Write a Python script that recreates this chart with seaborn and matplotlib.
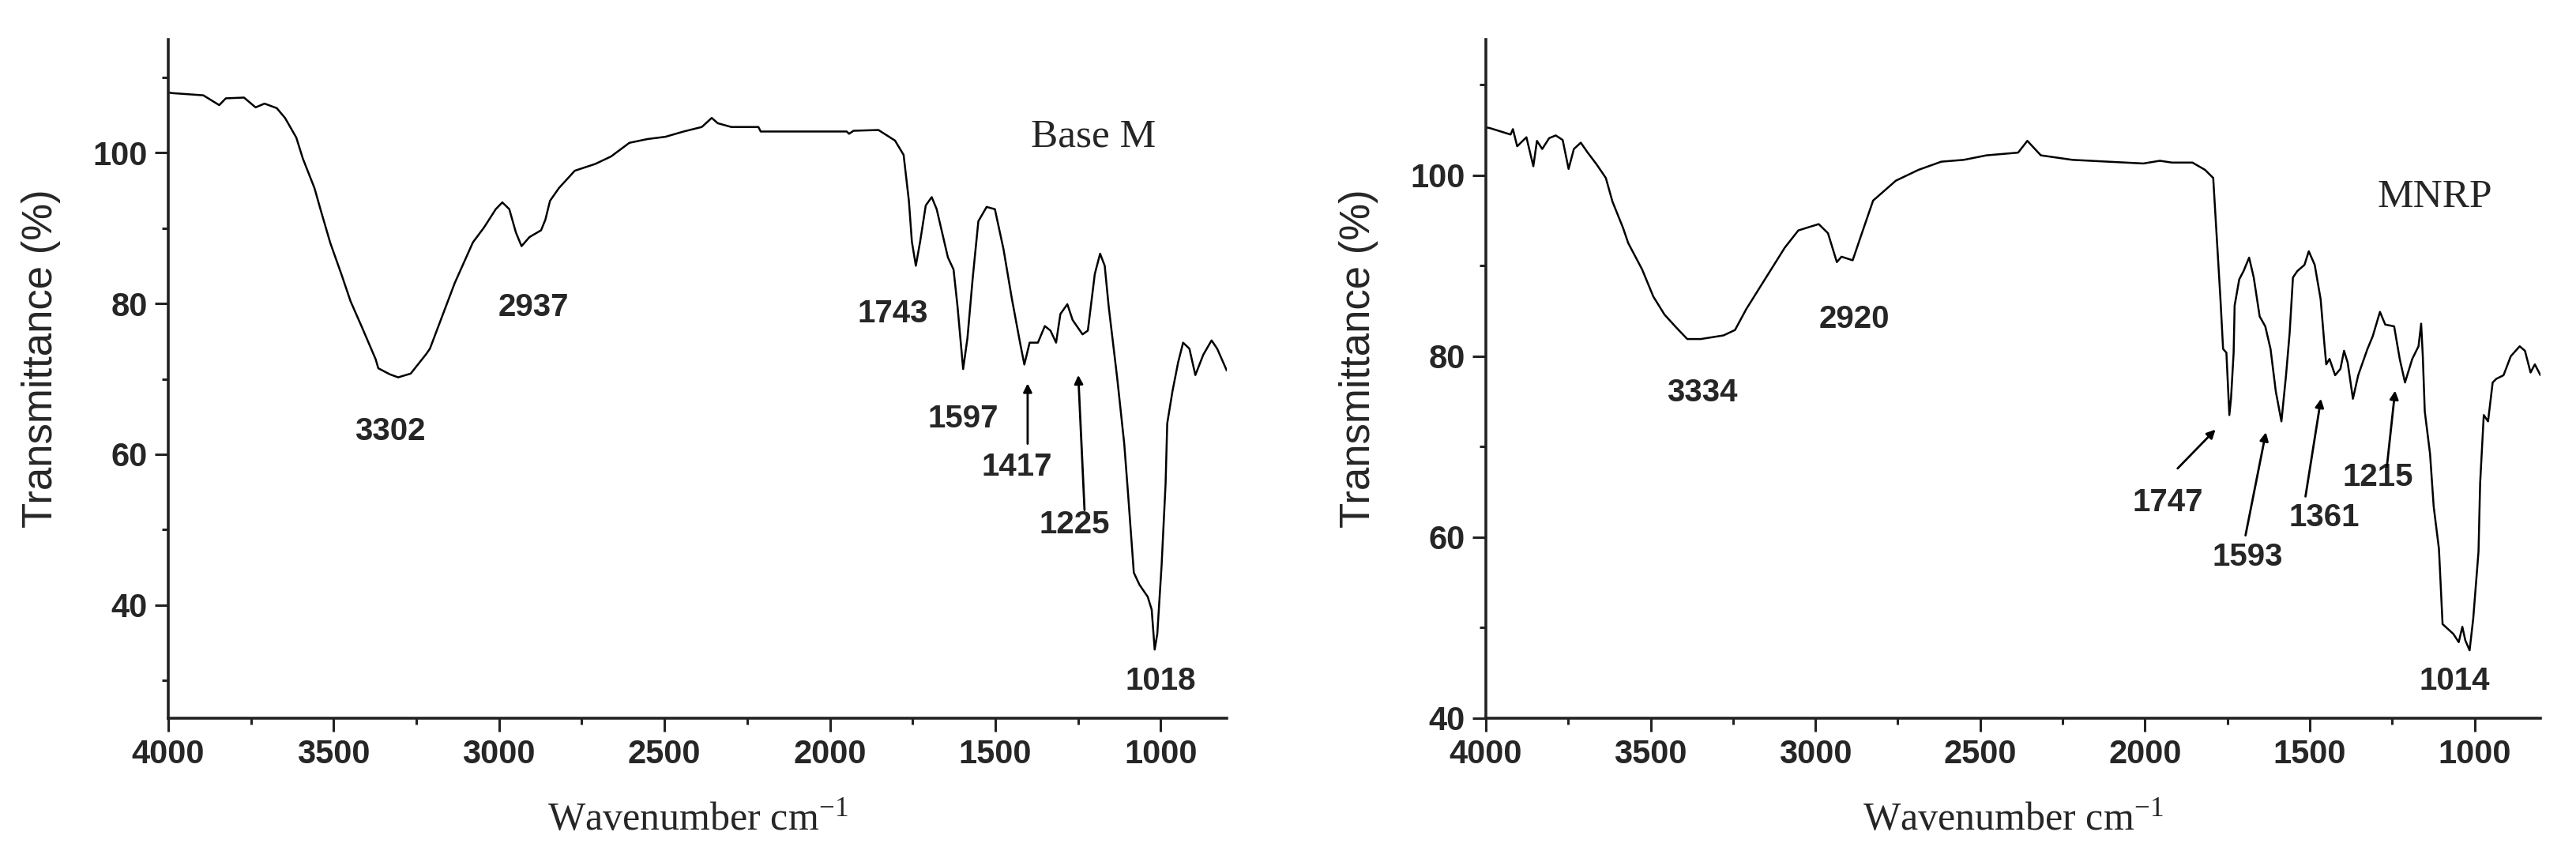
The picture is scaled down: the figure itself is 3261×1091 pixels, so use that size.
import numpy as np
import pandas as pd
import seaborn as sns
import matplotlib.pyplot as plt
from matplotlib.ticker import MultipleLocator

# Base M spectrum (wavenumber in cm-1, transmittance in %)
base_wn = [4000, 3990, 3894, 3846, 3826, 3771, 3736, 3709, 3672, 3647, 3613, 3593,
           3558, 3538, 3510, 3476, 3449, 3414, 3373, 3365, 3330, 3305, 3267, 3220,
           3209, 3134, 3079, 3045, 3010, 2990, 2969, 2949, 2932, 2908, 2873, 2860,
           2846, 2819, 2771, 2709, 2661, 2606, 2551, 2497, 2442, 2387, 2357, 2339,
           2298, 2216, 2209, 1949, 1942, 1928, 1853, 1803, 1777, 1761, 1752, 1740,
           1727, 1710, 1692, 1677, 1643, 1626, 1614, 1597, 1584, 1568, 1551, 1526,
           1501, 1475, 1450, 1425, 1412, 1396, 1371, 1350, 1333, 1316, 1303, 1282,
           1266, 1236, 1220, 1199, 1183, 1169, 1157, 1131, 1110, 1098, 1081, 1064,
           1039, 1027, 1018, 1010, 997, 985, 980, 964, 947, 932, 913, 895, 871, 846,
           829, 800]
base_t = [108.0, 107.9, 107.6, 106.3, 107.2, 107.3, 106.0, 106.5, 105.9, 104.6, 102.0, 99.2,
          95.3, 92.2, 88.0, 83.8, 80.3, 76.8, 72.6, 71.4, 70.6, 70.2, 70.7, 73.3,
          74.0, 82.7, 88.1, 90.1, 92.5, 93.4, 92.5, 89.4, 87.6, 88.8, 89.7, 91.1,
          93.6, 95.3, 97.6, 98.5, 99.5, 101.3, 101.8, 102.1, 102.8, 103.4, 104.6, 103.9,
          103.4, 103.4, 102.8, 102.8, 102.5, 102.9, 103.0, 101.6, 99.7, 93.6, 88.2, 85.0,
          88.2, 93.0, 94.1, 92.5, 86.1, 84.5, 79.6, 71.3, 75.4, 83.4, 90.9, 92.8,
          92.5, 87.2, 80.7, 74.8, 71.9, 74.8, 74.8, 77.0, 76.4, 74.8, 78.6, 79.9,
          77.8, 75.9, 76.4, 83.9, 86.6, 85.0, 79.6, 70.0, 61.4, 54.5, 44.3, 42.7,
          41.1, 39.4, 34.1, 36.2, 45.3, 56.1, 64.1, 68.4, 72.2, 74.8, 74.0, 70.5, 73.2, 75.1,
          74.0, 71.1]

# MNRP spectrum
mnrp_wn = [4000, 3987, 3925, 3918, 3905, 3877, 3856, 3845, 3829, 3808, 3788, 3767,
           3749, 3733, 3712, 3691, 3664, 3636, 3616, 3584, 3568, 3526, 3492, 3458,
           3423, 3389, 3348, 3279, 3244, 3210, 3155, 3093, 3052, 3017, 2990, 2962,
           2935, 2921, 2887, 2859, 2825, 2756, 2687, 2618, 2550, 2481, 2385, 2357,
           2316, 2220, 2005, 1955, 1918, 1856, 1818, 1793, 1782, 1771, 1763, 1753,
           1744, 1739, 1731, 1728, 1714, 1701, 1684, 1670, 1652, 1635, 1619, 1603,
           1586, 1572, 1561, 1551, 1538, 1516, 1503, 1485, 1467, 1456, 1450, 1440,
           1423, 1407, 1396, 1385, 1369, 1353, 1325, 1309, 1287, 1271, 1244, 1227,
           1211, 1189, 1170, 1162, 1157, 1151, 1135, 1124, 1108, 1097, 1064, 1048,
           1037, 1028, 1015, 1004, 988, 983, 972, 959, 945, 934, 912, 890, 863, 847,
           830, 817, 800]
mnrp_t = [105.3, 105.2, 104.5, 105.1, 103.2, 104.2, 101.0, 103.8, 102.9, 104.1, 104.4, 103.9,
          100.7, 102.9, 103.6, 102.5, 101.2, 99.7, 97.1, 94.2, 92.5, 89.6, 86.6, 84.6,
          83.2, 81.9, 81.9, 82.3, 82.9, 85.2, 88.4, 92.0, 93.9, 94.3, 94.6, 93.6,
          90.4, 91.0, 90.6, 93.6, 97.2, 99.4, 100.6, 101.5, 101.7, 102.2, 102.5, 103.8,
          102.2, 101.7, 101.3, 101.6, 101.4, 101.4, 100.6, 99.7, 93.0, 86.3, 80.8, 80.4,
          73.5, 75.3, 80.4, 85.6, 88.5, 89.4, 90.9, 88.7, 84.4, 83.3, 80.8, 76.1,
          72.8, 77.9, 82.6, 88.7, 89.4, 90.1, 91.6, 90.1, 86.3, 81.5, 79.1, 79.7,
          77.9, 78.6, 80.6, 79.3, 75.3, 77.9, 80.8, 82.2, 84.9, 83.5, 83.3, 79.7,
          77.1, 79.7, 81.1, 83.6, 80.0, 73.9, 69.2, 63.4, 58.7, 50.4, 49.3, 48.4,
          50.1, 48.6, 47.5, 51.0, 58.4, 66.0, 73.5, 72.8, 77.1, 77.5, 77.9, 80.0, 81.1, 80.6,
          78.2, 79.1, 77.9]

# peak labels
base_peaks = ["3302", "2937", "1743", "1597", "1417", "1225", "1018"]
mnrp_peaks = ["3334", "2920", "1747", "1593", "1361", "1215", "1014"]

# label placement (x, y) in data units, plus optional arrow (tail, head)
base_label_pos = [(3329, 63.0), (2897, 79.5), (1809, 78.6), (1597, 64.7),
                  (1434, 58.3), (1260, 50.7), (1000, 29.9)]
base_arrows = [None, None, None, None,
               ((1402, 61.4), (1402, 69.4)), ((1230, 52.6), (1249, 70.5)), None]
mnrp_label_pos = [(3343, 76.0), (2883, 84.1), (1930, 63.8), (1688, 57.8),
                  (1455, 62.2), (1292, 66.6), (1060, 44.1)]
mnrp_arrows = [None, None, ((1901, 67.6), (1786, 71.9)), ((1695, 60.2), (1633, 71.6)),
               ((1513, 64.5), (1466, 75.3)), ((1266, 67.8), (1241, 76.2)), None]

sns.set_theme(style="ticks")
plt.rcParams["font.family"] = ["Liberation Sans", "DejaVu Sans"]
plt.rcParams["mathtext.fontset"] = "custom"
plt.rcParams["mathtext.rm"] = "Liberation Serif"

W, H = 3262, 1091
fig = plt.figure(figsize=(W / 100, H / 100), dpi=100)

panels = [
    dict(left=213, right=1553, wn=base_wn, t=base_t, ylim=(25, 115), name="Base M",
         name_pos=(1203, 102.1), peaks=base_peaks, pos=base_label_pos, arrows=base_arrows),
    dict(left=1881, right=3216, wn=mnrp_wn, t=mnrp_t, ylim=(40, 115), name="MNRP",
         name_pos=(1120, 97.6), peaks=mnrp_peaks, pos=mnrp_label_pos, arrows=mnrp_arrows),
]

top, bottom = 50, 909
for p in panels:
    width = p["right"] - p["left"]
    ax = fig.add_axes([p["left"] / W, (H - bottom) / H, width / W, (bottom - top) / H])
    df = pd.DataFrame({"wn": p["wn"], "t": p["t"]})
    sns.lineplot(data=df, x="wn", y="t", ax=ax, color="black", lw=1.8,
                 estimator=None, sort=False)
    ax.set_xlim(4000, 800)
    ax.set_ylim(*p["ylim"])
    sns.despine(ax=ax)
    for s in ["left", "bottom"]:
        ax.spines[s].set_linewidth(2.6)
        ax.spines[s].set_color("#222222")

    ax.xaxis.set_major_locator(MultipleLocator(500))
    ax.xaxis.set_minor_locator(MultipleLocator(250))
    ax.yaxis.set_major_locator(MultipleLocator(20))
    ax.yaxis.set_minor_locator(MultipleLocator(10))
    ax.tick_params(which="major", direction="out", length=12, width=2.2,
                   color="#222222", labelsize=30, pad=7)
    ax.tick_params(which="minor", direction="out", length=6, width=2.2, color="#222222")
    for lab in ax.get_xticklabels() + ax.get_yticklabels():
        lab.set_fontweight("bold")

    ax.set_xlabel(r"Wavenumber cm$\mathregular{^{-1}}$", fontsize=36,
                  family="Liberation Serif")
    ax.set_ylabel("Transmittance (%)", fontsize=38)
    ax.yaxis.set_label_coords(-136 / width, 0.53)
    ax.xaxis.set_label_coords(0.5, -(1015 - bottom) / (bottom - top))

    ax.text(*p["name_pos"], p["name"], fontsize=37, family="Liberation Serif",
            ha="center", va="center")

    for lab, (lx, ly), arr in zip(p["peaks"], p["pos"], p["arrows"]):
        ax.text(lx, ly, lab, fontsize=29, fontweight="bold", ha="center", va="center")
        if arr is not None:
            ax.annotate("", xy=arr[1], xytext=arr[0],
                        arrowprops=dict(arrowstyle="-|>", color="black", lw=2,
                                        mutation_scale=16, shrinkA=0, shrinkB=0))

fig.savefig("out.png", dpi=100, facecolor="white")
